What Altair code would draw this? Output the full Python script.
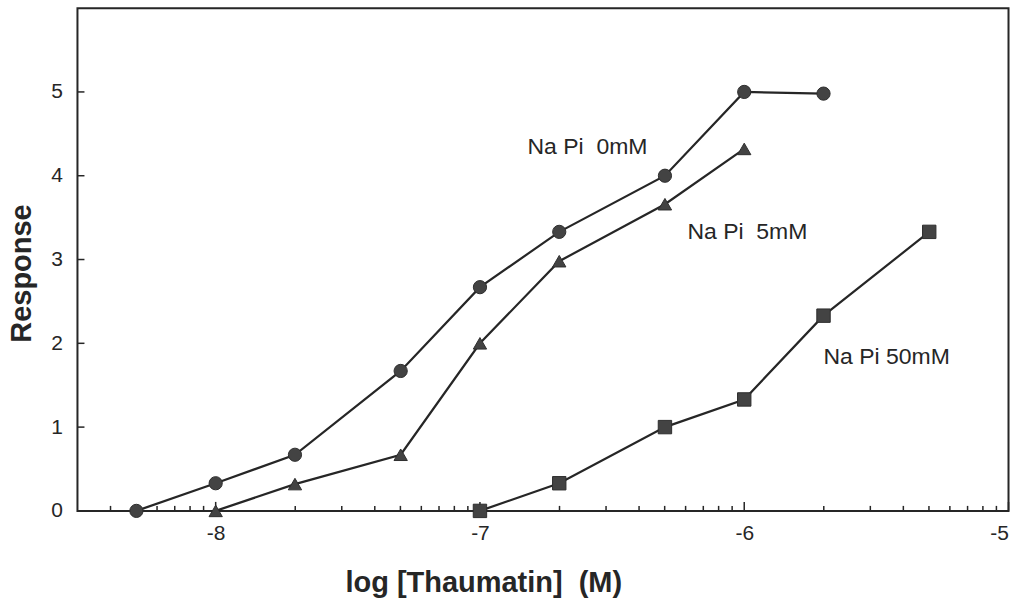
import math
import altair as alt
import pandas as pd

# log10 of thaumatin concentration (M) for each series, with the response scores
x_0mm = [-8.3, -8.0, -7.7, -7.3, -7.0, -6.7, -6.3, -6.0, -5.7]
y_0mm = [0.0, 0.33, 0.67, 1.67, 2.67, 3.33, 4.0, 5.0, 4.98]

x_5mm = [-8.0, -7.7, -7.3, -7.0, -6.7, -6.3, -6.0]
y_5mm = [0.0, 0.32, 0.67, 2.0, 2.98, 3.66, 4.32]

x_50mm = [-7.0, -6.7, -6.3, -6.0, -5.7, -5.3]
y_50mm = [0.0, 0.33, 1.0, 1.33, 2.33, 3.33]

series_names = ["Na Pi 0mM", "Na Pi 5mM", "Na Pi 50mM"]

# annotation labels and their anchor points (data coordinates)
label_text = ["Na Pi\u00a0\u00a00mM", "Na Pi\u00a0\u00a05mM", "Na Pi 50mM"]
label_x = [-6.82, -6.215, -5.70]
label_y = [4.34, 3.33, 1.84]

x_major = [-8, -7, -6, -5]
y_major = [0, 1, 2, 3, 4, 5]
minor_mult = [2, 3, 4, 5, 6, 7, 8, 9]
decades = [-9, -8, -7, -6]

X_MIN, X_MAX = -8.523, -5.0
W, H = 931.5, 503

rows = []
for name, xs, ys in zip(series_names, [x_0mm, x_5mm, x_50mm], [y_0mm, y_5mm, y_50mm]):
    for xv, yv in zip(xs, ys):
        rows.append({"series": name, "logc": xv, "resp": yv})
df = pd.DataFrame(rows)

labels = pd.DataFrame({"text": label_text, "logc": label_x, "resp": label_y})

minor = [d + math.log10(m) for d in decades for m in minor_mult]
minor = [v for v in minor if X_MIN + 0.01 < v < X_MAX - 0.001]
minor_df = pd.DataFrame({"logc": minor})
xmaj_df = pd.DataFrame({"logc": x_major})
ymaj_df = pd.DataFrame({"resp": y_major[1:]})

FONT = "Liberation Sans"
INK = "#262626"
MARK = "#434343"

xscale = alt.Scale(domain=[X_MIN, X_MAX], nice=False, zero=False)
yscale = alt.Scale(domain=[0, 6], nice=False, zero=False)

x_axis = alt.Axis(
    values=x_major, labelExpr="'-' + abs(datum.value)", ticks=False, grid=False,
    domain=False, labelFont=FONT, labelFontSize=21, labelColor=INK, labelPadding=12,
    titleFont=FONT, titleFontSize=29, titleFontWeight="bold",
    titleColor=INK, titleX=406, titleY=72, titleAlign="center", titleBaseline="middle",
)
y_axis = alt.Axis(
    values=y_major, ticks=False, grid=False, domain=False,
    labelFont=FONT, labelFontSize=21, labelColor=INK, labelPadding=15,
    titleFont=FONT, titleFontSize=29, titleFontWeight="bold",
    titleColor=INK, titleX=-56, titleY=265, titleAngle=270, titleAlign="center",
    titleBaseline="middle",
)

X = alt.X("logc:Q", scale=xscale, axis=x_axis, title="log [Thaumatin]\u00a0\u00a0(M)")
Y = alt.Y("resp:Q", scale=yscale, axis=y_axis, title="Response")

base = alt.Chart(df)

lines = base.mark_line(color=INK, strokeWidth=2.2).encode(x=X, y=Y, detail="series:N")

points = base.mark_point(filled=True, opacity=1, stroke="#2e2e2e", strokeWidth=1).encode(
    x=X,
    y=Y,
    shape=alt.Shape("series:N", scale=alt.Scale(domain=series_names,
                    range=["circle", "triangle-up", "square"]), legend=None),
    size=alt.Size("series:N", scale=alt.Scale(domain=series_names, range=[175, 180, 85]),
                  legend=None),
    color=alt.value(MARK),
)

texts = alt.Chart(labels).mark_text(
    font=FONT, fontSize=23, color=INK, align="left", baseline="middle"
).encode(x=X, y=Y, text="text:N")

minor_ticks = alt.Chart(minor_df).mark_rule(color=INK, strokeWidth=1.5).encode(
    x=X, y=alt.value(H), y2=alt.value(H - 5)
)
major_xticks = alt.Chart(xmaj_df).mark_rule(color=INK, strokeWidth=1.5).encode(
    x=X, y=alt.value(H), y2=alt.value(H - 9)
)
major_yticks = alt.Chart(ymaj_df).mark_rule(color=INK, strokeWidth=1.5).encode(
    y=Y, x=alt.value(0), x2=alt.value(7)
)

chart = alt.layer(
    lines, minor_ticks, major_xticks, major_yticks, points, texts
).properties(
    width=W, height=H,
    autosize=alt.AutoSizeParams(type="none"),
    padding={"left": 77.5, "top": 8, "right": 17.5, "bottom": 95},
    background="white",
).configure_view(
    stroke=INK, strokeWidth=2
)

chart.save("out.html", embed_options={"renderer": "svg", "actions": False})
